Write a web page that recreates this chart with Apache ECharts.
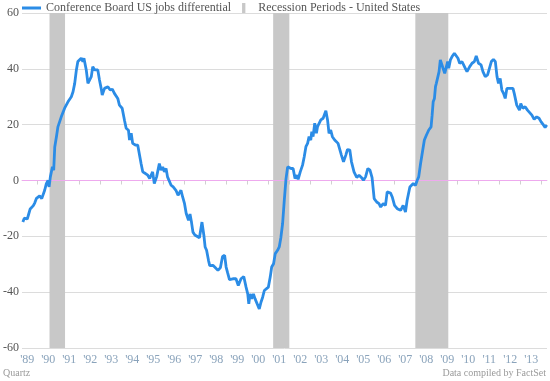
<!DOCTYPE html>
<html>
<head>
<meta charset="utf-8">
<script src="https://cdn.jsdelivr.net/npm/echarts@6/dist/echarts.min.js"></script>
<style>
html,body{margin:0;padding:0;background:#fff;}
#c{width:550px;height:381px;}
</style>
</head>
<body>
<div id="c"></div>
<script>
// Decimal-year positions of the readings and the series values
const years = [
1989.29,1989.36,1989.43,1989.50,1989.57,1989.64,1989.72,1989.79,1989.86,1989.94,
1990.00,1990.09,1990.19,1990.25,1990.33,1990.41,1990.49,1990.54,1990.60,1990.70,
1990.76,1990.81,1990.89,1990.96,1991.12,1991.28,1991.44,1991.60,1991.68,1991.76,
1991.84,1991.91,1991.99,1992.07,1992.15,1992.20,1992.31,1992.39,1992.47,1992.55,
1992.62,1992.71,1992.79,1992.86,1992.94,1993.02,1993.07,1993.18,1993.34,1993.45,
1993.55,1993.65,1993.81,1993.89,1994.02,1994.13,1994.21,1994.32,1994.37,1994.45,
1994.52,1994.65,1994.76,1994.84,1994.92,1995.00,1995.13,1995.24,1995.33,1995.47,
1995.55,1995.66,1995.79,1995.87,1995.95,1996.03,1996.11,1996.18,1996.26,1996.35,
1996.45,1996.58,1996.68,1996.74,1996.82,1996.90,1996.99,1997.07,1997.18,1997.25,
1997.32,1997.39,1997.48,1997.55,1997.70,1997.82,1997.91,1997.97,1998.04,1998.13,
1998.19,1998.34,1998.45,1998.58,1998.70,1998.80,1998.90,1998.97,1999.04,1999.13,
1999.29,1999.44,1999.55,1999.68,1999.81,1999.92,2000.00,2000.05,2000.11,2000.19,
2000.27,2000.35,2000.44,2000.55,2000.63,2000.71,2000.79,2000.87,2000.98,2001.07,
2001.14,2001.23,2001.31,2001.42,2001.50,2001.58,2001.66,2001.74,2001.82,2001.90,
2001.97,2002.06,2002.16,2002.25,2002.34,2002.40,2002.50,2002.61,2002.69,2002.77,
2002.85,2002.92,2003.00,2003.05,2003.11,2003.19,2003.27,2003.32,2003.40,2003.48,
2003.59,2003.72,2003.80,2003.87,2003.95,2004.03,2004.14,2004.22,2004.30,2004.38,
2004.46,2004.56,2004.67,2004.75,2004.86,2004.94,2005.06,2005.19,2005.30,2005.41,
2005.51,2005.61,2005.72,2005.82,2005.92,2006.02,2006.14,2006.25,2006.33,2006.45,
2006.56,2006.64,2006.72,2006.80,2006.88,2006.99,2007.12,2007.20,2007.28,2007.40,
2007.51,2007.59,2007.72,2007.88,2007.99,2008.07,2008.14,2008.23,2008.32,2008.41,
2008.51,2008.62,2008.73,2008.78,2008.83,2008.89,2008.94,2008.98,2009.05,2009.11,
2009.17,2009.22,2009.30,2009.38,2009.46,2009.52,2009.57,2009.65,2009.73,2009.84,
2009.93,2010.01,2010.09,2010.20,2010.28,2010.36,2010.44,2010.57,2010.68,2010.79,
2010.88,2010.99,2011.11,2011.20,2011.31,2011.42,2011.51,2011.60,2011.70,2011.79,
2011.87,2011.94,2012.02,2012.10,2012.18,2012.26,2012.34,2012.42,2012.50,2012.63,
2012.69,2012.81,2012.94,2013.00,2013.10,2013.21,2013.32,2013.41,2013.53,2013.64,
2013.76,2013.87,2013.97,2014.08,2014.16,2014.24
];
const jobsDifferential = [
-14.9,-13.5,-12.8,-13.8,-12.0,-10.2,-10.8,-9.0,-8.0,-6.4,
-7.1,-5.5,-6.5,-5.9,-3.5,-1.1,0.0,-2.3,1.3,4.9,
3.7,12.0,15.7,19.2,22.8,25.9,28.2,30.0,31.8,34.8,
39.6,42.6,43.2,43.8,42.6,43.8,39.6,34.8,34.2,37.2,
40.8,39.6,40.2,39.6,36.0,33.0,30.6,33.0,33.6,32.4,
32.7,31.2,29.4,27.0,25.9,21.6,18.7,18.0,14.5,16.9,
13.3,12.7,12.7,12.1,6.1,3.1,2.5,1.9,0.7,3.1,
-1.1,1.3,6.1,3.7,4.9,3.1,4.3,1.3,0.7,-1.7,
-2.3,-3.5,-5.3,-4.7,-3.5,-5.9,-8.3,-11.8,-14.3,-12.0,
-14.9,-18.5,-19.5,-20.0,-20.5,-14.9,-19.6,-23.8,-25.0,-28.6,
-30.5,-30.4,-31.2,-32.2,-31.2,-27.2,-26.8,-31.0,-33.0,-35.5,
-35.2,-35.2,-37.6,-35.2,-34.4,-38.2,-40.6,-44.2,-40.6,-42.4,
-40.6,-42.4,-41.8,-46.0,-43.6,-41.8,-39.4,-40.0,-38.2,-34.6,
-31.0,-29.8,-26.2,-25.0,-23.8,-20.3,-15.4,-7.1,0.5,4.9,
5.5,4.3,4.3,0.7,1.9,0.4,3.1,5.5,8.5,12.1,
13.3,15.7,14.5,17.5,15.7,20.5,16.9,19.2,20.5,21.7,
22.3,25.0,21.7,16.9,18.1,15.7,14.5,15.1,13.3,13.9,
9.1,6.7,9.1,11.1,10.9,6.7,3.1,1.1,1.9,1.1,
0.1,1.3,4.3,3.7,1.0,-6.5,-7.7,-8.3,-9.5,-8.3,
-8.9,-4.1,-4.1,-4.5,-5.9,-8.9,-10.1,-9.5,-10.7,-8.9,
-11.3,-7.1,-2.3,-1.1,-1.7,0.1,1.3,6.1,10.3,14.5,
16.3,18.1,19.2,23.4,28.2,29.4,33.6,34.8,34.2,39.0,
43.2,43.8,40.2,38.4,40.8,42.6,40.2,43.2,44.4,45.6,
45.6,43.8,42.0,42.6,41.4,40.2,39.0,40.8,42.0,42.6,
44.6,42.0,41.4,39.0,37.2,37.8,38.4,42.6,43.4,42.6,
37.2,34.8,36.6,32.4,31.2,29.4,33.0,32.7,33.0,33.0,
31.2,27.0,25.2,27.6,25.9,26.4,25.2,25.2,23.4,21.9,
22.8,22.3,21.0,19.9,19.0,19.9
];
// Recession periods (decimal years: start, end)
const recessionStart = [1990.56, 2001.21, 2007.98];
const recessionEnd   = [1991.30, 2001.98, 2009.55];
// Axis extent and tick labels
const axisStartYear = 1989, axisStartMonth = 4;   // April 1989
const axisEndYear = 2014, axisEndMonth = 4;       // April 2014
const yearLabels = ["'89","'90","'91","'92","'93","'94","'95","'96","'97","'98","'99","'00","'01","'02","'03","'04","'05","'06","'07","'08","'09","'10","'11","'12","'13"];
const yTicks = {min: -60, max: 60, step: 20};

const seriesName = 'Conference Board US jobs differential';
const recName = 'Recession Periods - United States';
const FONT = 'Liberation Serif';

// month categories for tick/label display
const months = [];
for (let y = axisStartYear, m = axisStartMonth; y < axisEndYear || (y === axisEndYear && m <= axisEndMonth); ) {
  months.push({y: y, m: m});
  m++; if (m > 12) { m = 1; y++; }
}
const monthCats = months.map(o => o.y + '-' + o.m);
const xMin = axisStartYear + (axisStartMonth - 1) / 12;
const xMax = axisEndYear + (axisEndMonth - 1) / 12;

const lineData = years.map((y, i) => [y, jobsDifferential[i]]);
const recAreas = recessionStart.map((s, i) => [{xAxis: s}, {xAxis: recessionEnd[i]}]);

const chart = echarts.init(document.getElementById('c'), null, {renderer: 'canvas'});
chart.setOption({
  animation: false,
  backgroundColor: '#fff',
  grid: {left: 21, right: 3, top: 13, bottom: 33, containLabel: false},
  legend: {
    left: 22, top: 2, padding: [0, 0, 0, 0], itemWidth: 19, itemHeight: 10, itemGap: 11,
    textStyle: {fontFamily: FONT, fontSize: 12, color: '#555'},
    data: [
      {name: seriesName, icon: 'path://M0,0H19V3H0Z', itemStyle: {color: '#2b8ce6'}},
      {name: recName, icon: 'path://M0,0H3V9H0Z', itemStyle: {color: '#c8c8c8'}}
    ]
  },
  xAxis: [{
    type: 'category', data: monthCats, boundaryGap: false,
    axisLine: {show: true, lineStyle: {color: '#d8d8d8', width: 1}},
    axisTick: {show: true, length: 4, lineStyle: {color: '#d0d0d0'},
      interval: (i) => months[i].m === 1},
    axisLabel: {show: true, margin: 6, fontFamily: FONT, fontSize: 12, color: '#8aa3bb',
      interval: (i) => months[i].m === 7,
      formatter: (v, i) => yearLabels[months[i].y - 1989] || ''},
    splitLine: {show: false}
  }, {
    type: 'value', min: xMin, max: xMax, show: false
  }],
  yAxis: {
    type: 'value', min: yTicks.min, max: yTicks.max, interval: yTicks.step,
    axisLine: {show: false}, axisTick: {show: false},
    axisLabel: {margin: 3, fontFamily: FONT, fontSize: 12, color: '#555'},
    splitLine: {show: true, lineStyle: {color: '#dcdcdc', width: 1}}
  },
  series: [{
    name: seriesName, type: 'line', xAxisIndex: 1, data: lineData,
    showSymbol: false, symbol: 'none', smooth: false,
    lineStyle: {color: '#2b8ce6', width: 2.8}, itemStyle: {color: '#2b8ce6'},
    z: 5,
    markLine: {silent: true, symbol: 'none', label: {show: false},
      lineStyle: {color: '#eeaaee', width: 1, type: 'solid'}, data: [{yAxis: 0}]}
  }, {
    name: recName, type: 'line', xAxisIndex: 1, data: [], z: 1,
    itemStyle: {color: '#c8c8c8'},
    markArea: {silent: true, itemStyle: {color: '#c8c8c8', opacity: 1}, data: recAreas}
  }],
  graphic: [
    {type: 'text', left: 3, top: 368, style: {text: 'Quartz', fill: '#9a9a9a', font: '10px "Liberation Serif"'}},
    {type: 'text', right: 4, top: 368, style: {text: 'Data compiled by FactSet', fill: '#9a9a9a', font: '10px "Liberation Serif"'}}
  ]
});
</script>
</body>
</html>
